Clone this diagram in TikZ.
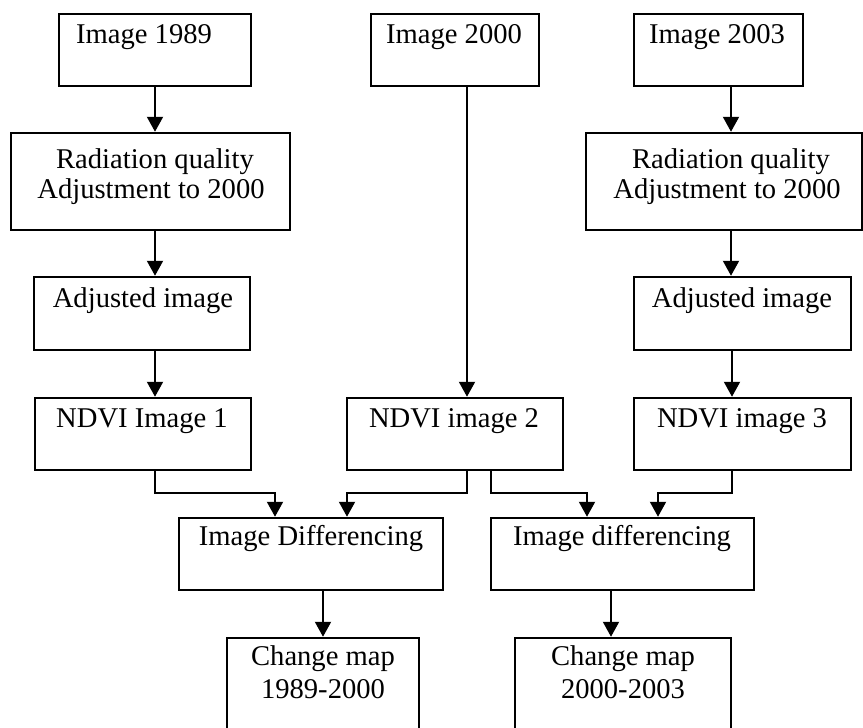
\documentclass[tikz,border=0pt]{standalone}
\usepackage{fontspec}
\setmainfont{Liberation Serif}
\usetikzlibrary{arrows.meta}
\begin{document}
\begin{tikzpicture}[x=1pt,y=-1pt,
  box/.style={draw, line width=2.5pt, inner sep=0pt, minimum width=#1},
  lbl/.style={anchor=base, inner sep=0pt, font=\fontsize{28.6}{32}\selectfont},
  arr/.style={line width=2pt, -{Triangle[width=16pt,length=15pt]}}]
\useasboundingbox (0,0) rectangle (863,728);
\clip (0,0) rectangle (863,728);
\fill[white] (0,0) rectangle (863,728);
% boxes
\node[box=192pt, minimum height=72pt] (A)  at (155,50) {};
\node[box=168pt, minimum height=72pt] (B)  at (455,50) {};
\node[box=169pt, minimum height=72pt] (C)  at (718.5,50) {};
\node[box=279pt, minimum height=97pt] (RL) at (150.5,181.5) {};
\node[box=276pt, minimum height=97pt] (RR) at (724,181.5) {};
\node[box=216pt, minimum height=73pt] (AL) at (142,313.5) {};
\node[box=217pt, minimum height=73pt] (AR) at (742.5,313.5) {};
\node[box=216pt, minimum height=72pt] (N1) at (143,434) {};
\node[box=216pt, minimum height=72pt] (N2) at (455,434) {};
\node[box=217pt, minimum height=72pt] (N3) at (742.5,434) {};
\node[box=264pt, minimum height=72pt] (D1) at (311,554) {};
\node[box=263pt, minimum height=72pt] (D2) at (622.5,554) {};
\node[box=192pt, minimum height=112pt] (M1) at (323,694) {};
\node[box=216pt, minimum height=112pt] (M2) at (623,694) {};
% texts
\node[lbl] (tA) at (144,43) {Image 1989};
\node[lbl] (tB) at (454,43) {Image 2000};
\node[lbl] (tC) at (717,43) {Image 2003};
\node[lbl] (tRL1) at (155,168) {Radiation quality};
\node[lbl] (tRL2) at (151,198) {Adjustment to 2000};
\node[lbl] (tRR1) at (731,168) {Radiation quality};
\node[lbl] (tRR2) at (727,198) {Adjustment to 2000};
\node[lbl] (tAL) at (143,307) {Adjusted image};
\node[lbl] (tAR) at (742,307) {Adjusted image};
\node[lbl] (tN1) at (142,427) {NDVI Image 1};
\node[lbl] (tN2) at (454,427) {NDVI image 2};
\node[lbl] (tN3) at (742,427) {NDVI image 3};
\node[lbl] (tD1) at (311,545) {Image Differencing};
\node[lbl] (tD2) at (622,545) {Image differencing};
\node[lbl] (tM1a) at (323,665) {Change map};
\node[lbl] (tM1b) at (323,698) {1989-2000};
\node[lbl] (tM2a) at (623,665) {Change map};
\node[lbl] (tM2b) at (623,698) {2000-2003};
% connectors
\draw[arr] (155,0 |- A.south) -- (155,0 |- RL.north);
\draw[arr] (155,0 |- RL.south) -- (155,0 |- AL.north);
\draw[arr] (155,0 |- AL.south) -- (155,0 |- N1.north);
\draw[arr] (467,0 |- B.south) -- (467,0 |- N2.north);
\draw[arr] (731,0 |- C.south) -- (731,0 |- RR.north);
\draw[arr] (731,0 |- RR.south) -- (731,0 |- AR.north);
\draw[arr] (732,0 |- AR.south) -- (732,0 |- N3.north);
\draw[arr] (155,0 |- N1.south) -- (155,493) -- (275,493) -- (275,0 |- D1.north);
\draw[arr] (467,0 |- N2.south) -- (467,493) -- (347,493) -- (347,0 |- D1.north);
\draw[arr] (491,0 |- N2.south) -- (491,493) -- (587,493) -- (587,0 |- D2.north);
\draw[arr] (732,0 |- N3.south) -- (732,493) -- (658,493) -- (658,0 |- D2.north);
\draw[arr] (323,0 |- D1.south) -- (323,0 |- M1.north);
\draw[arr] (611,0 |- D2.south) -- (611,0 |- M2.north);
\end{tikzpicture}
\end{document}
